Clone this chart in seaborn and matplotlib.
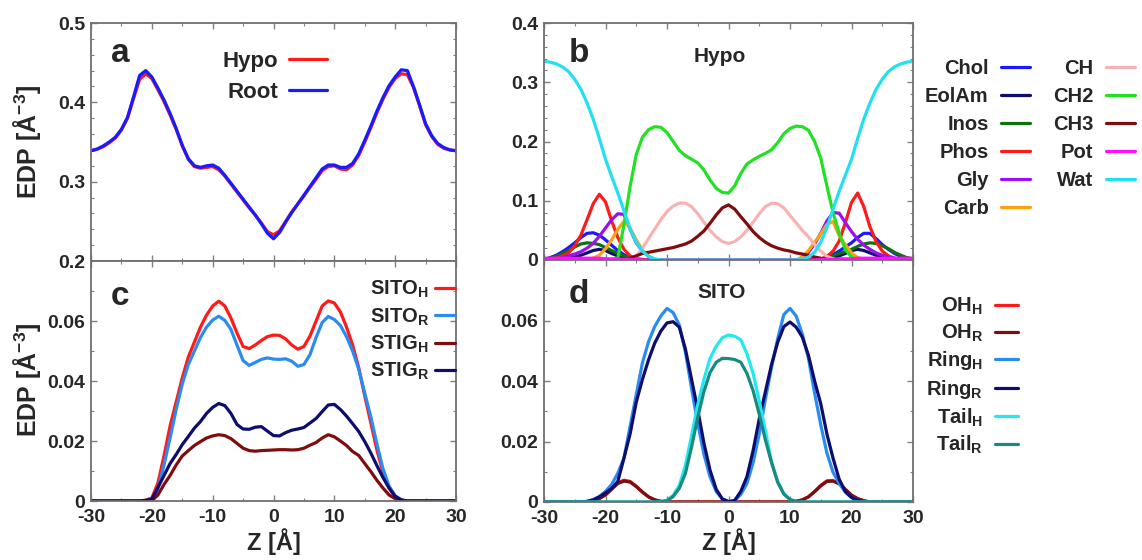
import numpy as np
import pandas as pd
import matplotlib
matplotlib.use("Agg")
import matplotlib.pyplot as plt
import seaborn as sns
from matplotlib.ticker import MultipleLocator, FixedLocator, FuncFormatter

# ---------------- data ----------------
Z = list(range(-30, 31))

# panel a : total electron density
a_hypo = [0.339, 0.341, 0.344, 0.349, 0.355, 0.365, 0.380, 0.405, 0.429, 0.436, 0.430, 0.416, 0.401, 0.384,
          0.366, 0.345, 0.328, 0.319, 0.317, 0.318, 0.319, 0.315, 0.307, 0.297, 0.287, 0.277, 0.267, 0.258,
          0.248, 0.237, 0.233, 0.238, 0.250, 0.262, 0.272, 0.282, 0.293, 0.303, 0.314, 0.319, 0.320, 0.316,
          0.315, 0.321, 0.333, 0.350, 0.368, 0.387, 0.404, 0.419, 0.430, 0.436, 0.435, 0.419, 0.396, 0.372,
          0.357, 0.347, 0.342, 0.340, 0.339]
a_root = [0.339, 0.341, 0.345, 0.350, 0.356, 0.366, 0.381, 0.407, 0.434, 0.440, 0.432, 0.418, 0.403, 0.386,
          0.367, 0.346, 0.329, 0.320, 0.318, 0.320, 0.321, 0.317, 0.308, 0.298, 0.288, 0.278, 0.268, 0.258,
          0.247, 0.235, 0.228, 0.236, 0.249, 0.261, 0.272, 0.283, 0.294, 0.305, 0.316, 0.321, 0.321, 0.318,
          0.318, 0.323, 0.335, 0.352, 0.370, 0.389, 0.406, 0.421, 0.432, 0.441, 0.440, 0.420, 0.397, 0.373,
          0.358, 0.348, 0.343, 0.340, 0.339]

# panel b : Hypo group densities
b_chol = [0.001, 0.004, 0.008, 0.014, 0.021, 0.029, 0.038, 0.045, 0.046, 0.042, 0.034, 0.025, 0.016, 0.009,
          0.004, 0.001] + [0] * 29 + [0.001, 0.004, 0.009, 0.015, 0.022, 0.029, 0.038, 0.045, 0.045, 0.036,
          0.026, 0.018, 0.011, 0.006, 0.003, 0.001]
b_eolam = [0, 0, 0, 0.001, 0.003, 0.005, 0.008, 0.012, 0.016, 0.018, 0.016, 0.011, 0.007, 0.003, 0.001] + \
          [0] * 30 + [0.001, 0.002, 0.004, 0.007, 0.011, 0.016, 0.018, 0.016, 0.012, 0.008, 0.005, 0.003,
          0.001, 0, 0, 0]
b_inos = [0.001, 0.003, 0.006, 0.011, 0.016, 0.022, 0.027, 0.029, 0.028, 0.026, 0.021, 0.016, 0.011, 0.007,
          0.004, 0.002, 0.001] + [0] * 27 + [0.001, 0.002, 0.004, 0.007, 0.011, 0.014, 0.018, 0.023, 0.027,
          0.029, 0.028, 0.024, 0.019, 0.013, 0.008, 0.004, 0.002]
b_phos = [0, 0.001, 0.003, 0.007, 0.012, 0.024, 0.042, 0.068, 0.095, 0.111, 0.098, 0.066, 0.038, 0.018,
          0.007, 0.002] + [0] * 29 + [0.001, 0.006, 0.015, 0.032, 0.063, 0.097, 0.113, 0.090, 0.056, 0.031,
          0.015, 0.007, 0.003, 0.001, 0, 0]
b_gly = [0, 0.001, 0.002, 0.004, 0.007, 0.010, 0.014, 0.020, 0.028, 0.040, 0.054, 0.068, 0.078, 0.077,
         0.052, 0.029, 0.015, 0.006, 0.001] + [0] * 23 + [0.004, 0.013, 0.027, 0.045, 0.066, 0.080, 0.079,
         0.063, 0.048, 0.035, 0.025, 0.018, 0.012, 0.008, 0.005, 0.003, 0.001, 0, 0]
b_carb = [0] * 7 + [0.001, 0.003, 0.008, 0.019, 0.034, 0.052, 0.065, 0.054, 0.034, 0.017, 0.006, 0.001] + \
         [0] * 23 + [0.005, 0.016, 0.030, 0.044, 0.060, 0.065, 0.041, 0.026, 0.012, 0.004, 0.001] + [0] * 8
b_ch = [0] * 14 + [0.002, 0.006, 0.020, 0.036, 0.052, 0.068, 0.082, 0.091, 0.096, 0.096, 0.090, 0.078,
        0.064, 0.050, 0.039, 0.031, 0.028, 0.031, 0.039, 0.050, 0.064, 0.078, 0.090, 0.096, 0.095, 0.088,
        0.075, 0.063, 0.050, 0.039, 0.026, 0.015, 0.006, 0.002] + [0] * 13
b_ch2 = [0] * 12 + [0.003, 0.060, 0.124, 0.178, 0.207, 0.220, 0.225, 0.224, 0.215, 0.200, 0.185, 0.176,
         0.170, 0.164, 0.152, 0.135, 0.121, 0.114, 0.113, 0.125, 0.146, 0.162, 0.169, 0.175, 0.180, 0.186,
         0.198, 0.213, 0.222, 0.226, 0.225, 0.219, 0.200, 0.172, 0.125, 0.080, 0.045, 0.018, 0.005] + [0] * 10
b_ch3 = [0] * 14 + [0.003, 0.007, 0.011, 0.013, 0.015, 0.017, 0.019, 0.021, 0.024, 0.027, 0.032, 0.040,
         0.049, 0.062, 0.076, 0.088, 0.093, 0.086, 0.073, 0.061, 0.048, 0.038, 0.030, 0.024, 0.020, 0.017,
         0.015, 0.012, 0.010, 0.008, 0.005, 0.003, 0.001] + [0] * 14
b_pot = [0.003] * 10 + [0.002, 0.002, 0.002, 0.001, 0.001, 0.001] + [0] * 29 + \
        [0.001, 0.001, 0.001, 0.002, 0.002, 0.002] + [0.003] * 10
b_wat = [0.335, 0.334, 0.331, 0.326, 0.318, 0.305, 0.288, 0.265, 0.238, 0.205, 0.170, 0.141, 0.113, 0.083,
         0.052, 0.030, 0.015, 0.006, 0.002] + [0] * 23 + [0.001, 0.005, 0.013, 0.030, 0.055, 0.086, 0.116,
         0.143, 0.170, 0.205, 0.238, 0.265, 0.288, 0.305, 0.318, 0.326, 0.331, 0.334, 0.335]

# panel c : sterol densities
c_sito_h = [0] * 9 + [0.0003, 0.001, 0.006, 0.015, 0.025, 0.033, 0.041, 0.048, 0.053, 0.058, 0.062, 0.065,
            0.0666, 0.065, 0.061, 0.056, 0.0515, 0.0508, 0.052, 0.0535, 0.0548, 0.0553, 0.0552, 0.054, 0.052,
            0.0506, 0.0515, 0.055, 0.060, 0.065, 0.0667, 0.066, 0.063, 0.058, 0.052, 0.0445, 0.035, 0.026,
            0.017, 0.0095, 0.0043, 0.0013, 0.0002] + [0] * 9
c_sito_r = [0] * 10 + [0.0003, 0.004, 0.012, 0.021, 0.0305, 0.039, 0.0455, 0.050, 0.0545, 0.058, 0.0603,
            0.0616, 0.0602, 0.0572, 0.052, 0.0468, 0.0452, 0.0462, 0.0472, 0.0477, 0.0473, 0.0472, 0.0474,
            0.0466, 0.0449, 0.0455, 0.0488, 0.0545, 0.0595, 0.0615, 0.0605, 0.0585, 0.0548, 0.050, 0.044,
            0.036, 0.028, 0.019, 0.0107, 0.005, 0.0017, 0.0003] + [0] * 9
c_stig_h = [0] * 10 + [0.0001, 0.002, 0.0055, 0.0085, 0.012, 0.015, 0.0168, 0.0185, 0.0198, 0.021, 0.0217,
            0.0221, 0.0218, 0.0208, 0.0192, 0.0176, 0.0168, 0.0166, 0.0168, 0.0169, 0.017, 0.0171, 0.0171,
            0.017, 0.0171, 0.0176, 0.0186, 0.0195, 0.021, 0.0221, 0.0214, 0.020, 0.0185, 0.0165, 0.0152,
            0.0125, 0.0098, 0.0069, 0.0043, 0.002, 0.0008, 0.0001] + [0] * 9
c_stig_r = [0] * 9 + [0.0002, 0.0006, 0.0045, 0.0085, 0.0125, 0.0155, 0.0188, 0.0215, 0.0243, 0.0265,
            0.0292, 0.0312, 0.0325, 0.0318, 0.0292, 0.0255, 0.024, 0.0239, 0.0246, 0.0248, 0.0233, 0.0218,
            0.0217, 0.0228, 0.0236, 0.024, 0.0245, 0.026, 0.0275, 0.0298, 0.032, 0.0322, 0.0305, 0.0283,
            0.0258, 0.0232, 0.0198, 0.016, 0.0118, 0.0078, 0.0043, 0.0016, 0.0004] + [0] * 9

# panel d : SITO fragment densities
d_oh_h = [0] * 8 + [0.0005, 0.0012, 0.0025, 0.0045, 0.0064, 0.0072, 0.0068, 0.0052, 0.0033, 0.0017, 0.0007,
          0.0002] + [0] * 21 + [0.0002, 0.0007, 0.0017, 0.0035, 0.0055, 0.0070, 0.0071, 0.0062, 0.0042,
          0.0023, 0.0011, 0.0004] + [0] * 8
d_oh_r = [0] * 8 + [0.0005, 0.0011, 0.0023, 0.0042, 0.0061, 0.0069, 0.0066, 0.0051, 0.0033, 0.0017, 0.0007,
          0.0002] + [0] * 21 + [0.0002, 0.0007, 0.0017, 0.0034, 0.0053, 0.0068, 0.0069, 0.0060, 0.0041,
          0.0022, 0.0011, 0.0004] + [0] * 8
d_ring_h = [0] * 7 + [0.0002, 0.0008, 0.0018, 0.0035, 0.0058, 0.0095, 0.0145, 0.025, 0.0355, 0.046, 0.053,
            0.058, 0.0615, 0.064, 0.0626, 0.0585, 0.0495, 0.0375, 0.026, 0.0158, 0.0083, 0.0035, 0.001,
            0.0002, 0.0004, 0.0025, 0.0061, 0.013, 0.0225, 0.034, 0.0445, 0.054, 0.062, 0.064, 0.0615,
            0.0555, 0.0475, 0.036, 0.0255, 0.0162, 0.0098, 0.0062, 0.0032, 0.0015, 0.0006, 0.0002] + [0] * 8
d_ring_r = [0] * 7 + [0.0002, 0.0007, 0.0017, 0.003, 0.0045, 0.0068, 0.0145, 0.0225, 0.033, 0.0405, 0.047,
            0.0525, 0.0565, 0.0592, 0.0596, 0.0578, 0.0505, 0.0405, 0.0305, 0.0195, 0.0105, 0.0042, 0.001,
            0.0001, 0.0005, 0.0035, 0.0084, 0.017, 0.0275, 0.0365, 0.0455, 0.0528, 0.058, 0.0595, 0.0578,
            0.0545, 0.0485, 0.040, 0.0325, 0.0225, 0.0145, 0.0075, 0.0035, 0.0015, 0.0006, 0.0002] + [0] * 8
d_tail_h = [0] * 19 + [0.0002, 0.0006, 0.0022, 0.0055, 0.0122, 0.022, 0.0322, 0.0405, 0.0475, 0.0515,
            0.0543, 0.0552, 0.0548, 0.0536, 0.049, 0.0425, 0.0335, 0.0235, 0.0132, 0.0068, 0.0028, 0.0008,
            0.0002] + [0] * 19
d_tail_r = [0] * 19 + [0.0001, 0.0004, 0.0018, 0.0045, 0.0095, 0.0182, 0.028, 0.0365, 0.0428, 0.0462,
            0.0475, 0.0474, 0.0471, 0.0462, 0.0425, 0.0368, 0.029, 0.0205, 0.013, 0.0065, 0.0026, 0.0008,
            0.0002] + [0] * 19

A_NAMES = ["Hypo", "Root"]
B_NAMES = ["Chol", "EolAm", "Inos", "Phos", "Gly", "Carb", "CH", "CH2", "CH3", "Pot", "Wat"]
C_NAMES = [r"SITO$_\mathbf{H}$", r"SITO$_\mathbf{R}$", r"STIG$_\mathbf{H}$", r"STIG$_\mathbf{R}$"]
D_NAMES = [r"OH$_\mathbf{H}$", r"OH$_\mathbf{R}$", r"Ring$_\mathbf{H}$", r"Ring$_\mathbf{R}$",
           r"Tail$_\mathbf{H}$", r"Tail$_\mathbf{R}$"]
X_TICKS = [-30, -20, -10, 0, 10, 20, 30]

A_DATA = [a_hypo, a_root]
B_DATA = [b_chol, b_eolam, b_inos, b_phos, b_gly, b_carb, b_ch, b_ch2, b_ch3, b_pot, b_wat]
C_DATA = [c_sito_h, c_sito_r, c_stig_h, c_stig_r]
D_DATA = [d_oh_h, d_oh_r, d_ring_h, d_ring_r, d_tail_h, d_tail_r]

RED, BLUE, NAVY, DKRED, LBLUE = "#ff1a1a", "#1a1aff", "#0d0d70", "#800d0d", "#2a8cf2"
A_COLORS = [RED, BLUE]
B_COLORS = [BLUE, NAVY, "#0f700f", RED, "#9a10ee", "#ffa010", "#f7b3b3", "#22e022", DKRED, "#ff10ff",
            "#22e0f0"]
C_COLORS = [RED, LBLUE, DKRED, NAVY]
D_COLORS = [RED, DKRED, LBLUE, NAVY, "#22e8f0", "#1a8a80"]

# ---------------- style ----------------
sns.set_style("ticks")
plt.rcParams["font.family"] = ["Liberation Sans", "DejaVu Sans"]
plt.rcParams["font.weight"] = "bold"
plt.rcParams["mathtext.fontset"] = "custom"
plt.rcParams["mathtext.rm"] = "Liberation Sans:bold"
plt.rcParams["mathtext.bf"] = "Liberation Sans:bold"
plt.rcParams["mathtext.it"] = "Liberation Sans:bold"
plt.rcParams["axes.unicode_minus"] = False

W, H = 1142, 560
fig = plt.figure(figsize=(W / 100, H / 100), dpi=100)


def add_ax(l, t, r, b):
    return fig.add_axes([l / W, 1 - b / H, (r - l) / W, (b - t) / H])


ax_a = add_ax(91, 23, 456, 261)
ax_c = add_ax(91, 261, 456, 501)
ax_b = add_ax(544, 23, 913, 260)
ax_d = add_ax(544, 260, 913, 502)

LW = 2.3


def draw(ax, names, datas, colors):
    for n, d, c in zip(names, datas, colors):
        sns.lineplot(x=Z, y=d, ax=ax, color=c, lw=LW, label=n)


draw(ax_a, A_NAMES, A_DATA, A_COLORS)
draw(ax_b, B_NAMES, B_DATA, B_COLORS)
draw(ax_c, C_NAMES, C_DATA, C_COLORS)
draw(ax_d, D_NAMES, D_DATA, D_COLORS)

fmt = FuncFormatter(lambda v, p: "0" if abs(v) < 1e-9 else f"{v:g}")
TICK_FS = 14
for ax in (ax_a, ax_b, ax_c, ax_d):
    ax.set_xlim(-30, 30)
    ax.xaxis.set_major_locator(FixedLocator(X_TICKS))
    ax.xaxis.set_minor_locator(MultipleLocator(5))
    ax.tick_params(which="both", direction="in", top=True, right=True, color="#808080",
                   labelsize=TICK_FS)
    ax.tick_params(axis="x", pad=6)
    ax.tick_params(axis="y", pad=4)
    ax.tick_params(which="major", length=4, width=1.0)
    ax.tick_params(which="minor", length=2.5, width=0.8)
    for s in ax.spines.values():
        s.set_color("#707070")
        s.set_linewidth(1.3)
    ax.yaxis.set_major_formatter(fmt)
    ax.xaxis.set_major_formatter(fmt)
    ax.set_xlabel("")
    ax.set_ylabel("")

ax_a.set_ylim(0.2, 0.5)
ax_a.yaxis.set_major_locator(FixedLocator([0.2, 0.3, 0.4, 0.5]))
ax_a.yaxis.set_minor_locator(MultipleLocator(0.02))
ax_b.set_ylim(0, 0.4)
ax_b.yaxis.set_major_locator(FixedLocator([0, 0.1, 0.2, 0.3, 0.4]))
ax_b.yaxis.set_minor_locator(MultipleLocator(0.02))
for ax in (ax_c, ax_d):
    ax.set_ylim(0, 0.08)
    ax.yaxis.set_major_locator(FixedLocator([0, 0.02, 0.04, 0.06]))
    ax.yaxis.set_minor_locator(MultipleLocator(0.01))
for ax in (ax_a, ax_b):
    ax.tick_params(labelbottom=False)
for ax in (ax_a, ax_b, ax_c, ax_d):
    plt.setp(ax.get_xticklabels() + ax.get_yticklabels(), fontweight="bold")

# axis labels
YL = r"EDP [Å$^{\mathbf{-3}}$]"
fig.text(27 / W, 1 - 142 / H, YL, rotation=90, ha="center", va="center", fontsize=18, fontweight="bold")
fig.text(27 / W, 1 - 380 / H, YL, rotation=90, ha="center", va="center", fontsize=18, fontweight="bold")
fig.text(274 / W, 1 - 542 / H, "Z [Å]", ha="center", va="center", fontsize=17, fontweight="bold")
fig.text(729 / W, 1 - 542 / H, "Z [Å]", ha="center", va="center", fontsize=17, fontweight="bold")

# panel letters and titles
for ax, letter, y in ((ax_a, "a", 0.835), (ax_b, "b", 0.835), (ax_c, "c", 0.815), (ax_d, "d", 0.822)):
    x = 0.055 if letter in "ac" else 0.068
    ax.text(x, y, letter, transform=ax.transAxes, fontsize=24, fontweight="bold", va="baseline")
ax_b.text(0.477, 0.835, "Hypo", transform=ax_b.transAxes, ha="center", va="baseline", fontsize=15,
          fontweight="bold")
ax_d.text(0.482, 0.843, "SITO", transform=ax_d.transAxes, ha="center", va="baseline", fontsize=15,
          fontweight="bold")

# legends
common = dict(frameon=False, markerfirst=False, borderpad=0, borderaxespad=0,
              bbox_transform=fig.transFigure)
ax_a.legend(loc="upper right", bbox_to_anchor=(327 / W, 1 - 51 / H), fontsize=16, handlelength=1.7,
            handletextpad=0.5, labelspacing=0.45, **common)
ax_b.legend(loc="upper left", bbox_to_anchor=(925 / W, 1 - 59 / H), ncol=2, fontsize=14.5,
            handlelength=1.45, handletextpad=0.6, labelspacing=0.45, columnspacing=1.15, **common)
ax_c.legend(loc="upper right", bbox_to_anchor=(455 / W, 1 - 279 / H), fontsize=14.5, handlelength=1.0,
            handletextpad=0.3, labelspacing=0.3, **common)
ax_d.legend(loc="upper left", bbox_to_anchor=(926 / W, 1 - 296 / H), fontsize=14.5, handlelength=1.15,
            handletextpad=0.6, labelspacing=0.27, **common)

fig.savefig("out.png", dpi=100)
